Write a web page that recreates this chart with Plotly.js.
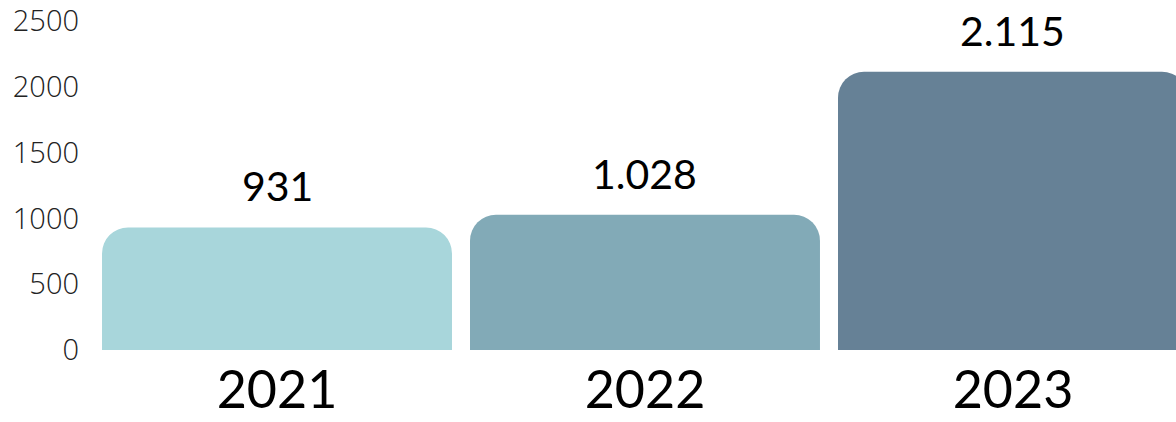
<!DOCTYPE html>
<html>
<head>
<meta charset="utf-8">
<script src="https://cdn.plot.ly/plotly-3.0.1.min.js"></script>
<style>html,body{margin:0;padding:0;background:#fff;overflow:hidden}#chart{width:1176px;height:422px}</style>
</head>
<body>
<div id="chart"></div>
<script>
const categories = ["2021", "2022", "2023"];
const values = [931, 1028, 2115];
const barColors = ["#A8D6DB", "#82AAB7", "#668196"];
const yTickValues = [0, 500, 1000, 1500, 2000, 2500];

function fmt(v) {
  return String(v).replace(/\B(?=(\d{3})+(?!\d))/g, ".");
}

const trace = {
  type: "bar",
  x: categories,
  y: values,
  marker: { color: barColors, cornerradius: 26 },
  hoverinfo: "skip"
};

const annotations = categories.map((c, i) => ({
  x: i, y: values[i], xref: "x", yref: "y",
  text: fmt(values[i]),
  showarrow: false, yanchor: "bottom", yshift: 15,
  font: { family: "Lato", size: 41, color: "#000" }
}));

const layout = {
  width: 1176, height: 422,
  margin: { l: 93, r: 0, t: 21, b: 72, pad: 0 },
  paper_bgcolor: "#fff", plot_bgcolor: "#fff",
  bargap: 0.049,
  showlegend: false,
  xaxis: {
    type: "category",
    range: [-0.5, 2.443],
    showgrid: false, zeroline: false, showline: false,
    ticks: "",
    ticklabelstandoff: 5,
    tickfont: { family: "Lato", size: 52, color: "#000" },
    fixedrange: true
  },
  yaxis: {
    range: [0, 2500],
    tickvals: yTickValues,
    showgrid: false, zeroline: false, showline: false,
    ticks: "",
    ticklabelstandoff: 13,
    tickfont: { family: "Open Sans", size: 29, color: "#222", weight: 300 },
    fixedrange: true
  },
  annotations: annotations
};

Plotly.newPlot("chart", [trace], layout, { displayModeBar: false, staticPlot: true });
</script>
</body>
</html>
